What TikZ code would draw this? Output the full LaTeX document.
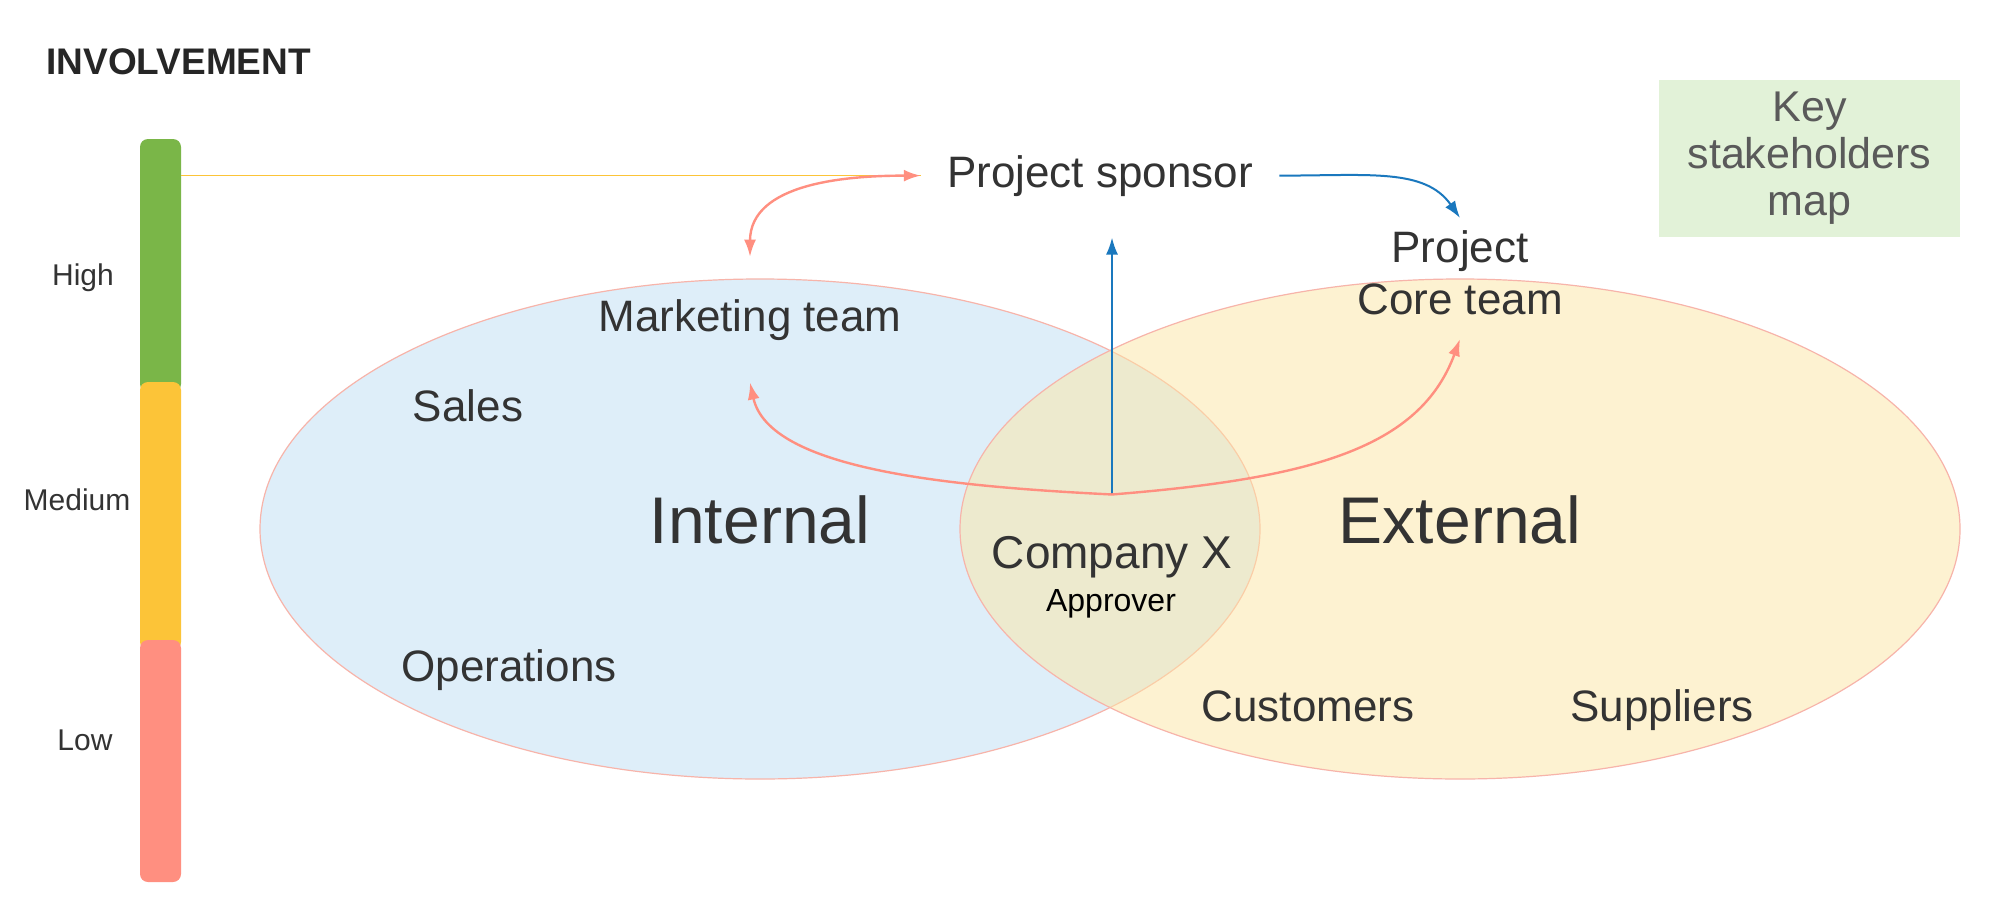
\documentclass[tikz,border=0pt]{standalone}
\usepackage{fontspec}
\setmainfont{Liberation Sans}
\usepackage{xcolor}
\usepackage{tikz}
\usetikzlibrary{arrows.meta}

\definecolor{inkdark}{HTML}{333333}
\definecolor{salmon}{HTML}{FF8F80}
\definecolor{linkblue}{HTML}{1A78BE}
\definecolor{lvlhigh}{HTML}{7AB648}
\definecolor{lvlmed}{HTML}{FCC438}
\definecolor{lvllow}{HTML}{FF8F80}
\definecolor{intfill}{HTML}{DEEEF9}
\definecolor{extfill}{HTML}{FDE7A5}
\definecolor{vennline}{HTML}{F7B4AA}
\definecolor{keyfill}{HTML}{E2F2D8}
\definecolor{keyink}{HTML}{5A5A5A}

\begin{document}
\begin{tikzpicture}[x=0.5pt,y=-0.5pt,>={Latex[length=8.5pt,width=6pt]},
 stake/.style={anchor=base,text=inkdark,font=\fontsize{22}{26}\selectfont},
 zone/.style={anchor=base,text=inkdark,font=\fontsize{33}{39}\selectfont},
 level/.style={anchor=base,text=inkdark,font=\fontsize{15}{18}\selectfont},
 levelbar/.style={rounded corners=4pt,minimum width=20.5pt,inner sep=0pt},
 keybox/.style={fill=keyfill,text=keyink,align=center,minimum width=150.5pt,
   minimum height=78.5pt,font=\fontsize{21.5}{23.5}\selectfont},
 venn/.style={draw=vennline,line width=0.6pt},
 link/.style={draw=salmon,line width=1.2pt},
 flow/.style={draw=linkblue,line width=1pt}]
 \useasboundingbox (0,0) rectangle (2000,920);
 \fill[white] (0,0) rectangle (2000,920);

 % the two groups
 \draw[venn,fill=intfill] (760,529) ellipse [x radius=250pt,y radius=125pt];
 \draw[venn,fill=extfill,fill opacity=0.5] (1460,529) ellipse [x radius=250pt,y radius=125pt];

 % involvement scale
 \node[anchor=base west,inner sep=0pt,font=\bfseries\fontsize{18.5}{22}\selectfont,text=black!85] (title) at (46,75) {INVOLVEMENT};
 \node[levelbar,fill=lvlhigh,minimum height=126.5pt] (highbar) at (160.5,265.5) {};
 \node[levelbar,fill=lvlmed,minimum height=134pt] (medbar) at (160.5,516) {};
 \node[levelbar,fill=lvllow,minimum height=121pt] (lowbar) at (160.5,761) {};
 \node[level] (high) at (83,285) {High};
 \node[level] (medium) at (77,510) {Medium};
 \node[level] (low) at (85,750) {Low};

 \node[keybox] (key) at (1809.5,158.5) {Key\\stakeholders\\map};

 \node[stake,inner xsep=13pt,inner ysep=20.5pt] (sponsor) at (1100,187) {Project sponsor};
 \node[stake,inner ysep=21pt] (mkt) at (750,331) {Marketing team};
 \node[stake,anchor=center,align=center,inner ysep=6pt] (core) at (1460,272.5) {Project\\Core team};
 \node[stake] (sales) at (468,421) {Sales};
 \node[stake] (ops) at (509,681) {Operations};
 \node[zone] (internal) at (760,543) {Internal};
 \node[zone] (external) at (1460,543) {External};
 \node[stake,font=\fontsize{23}{27}\selectfont,inner ysep=20.5pt] (cx) at (1112,568) {Company X};
 \node[anchor=base,font=\fontsize{16}{19}\selectfont] (approver) at (1111,611) {Approver};
 \node[stake] (customers) at (1308,721) {Customers};
 \node[stake] (suppliers) at (1662,721) {Suppliers};

 \draw[lvlmed,line width=0.8pt] (highbar.east |- sponsor.west) -- (sponsor.west);
 \draw[flow,->] (sponsor.east) .. controls +(90,0) and +(-35,-50) .. (core.north);
 \draw[flow,->] (cx.north) -- (cx.north |- sponsor.south);
 \draw[link,<->] (sponsor.west) to[out=180,in=90] (mkt.north);
 \draw[link,->] (cx.north) .. controls +(-162,-8) and +(19,87) .. (mkt.south);
 \draw[link,->] (cx.north) .. controls +(200,-16) and +(-40,109) .. ([yshift=-6pt]core.south);
\end{tikzpicture}
\end{document}
